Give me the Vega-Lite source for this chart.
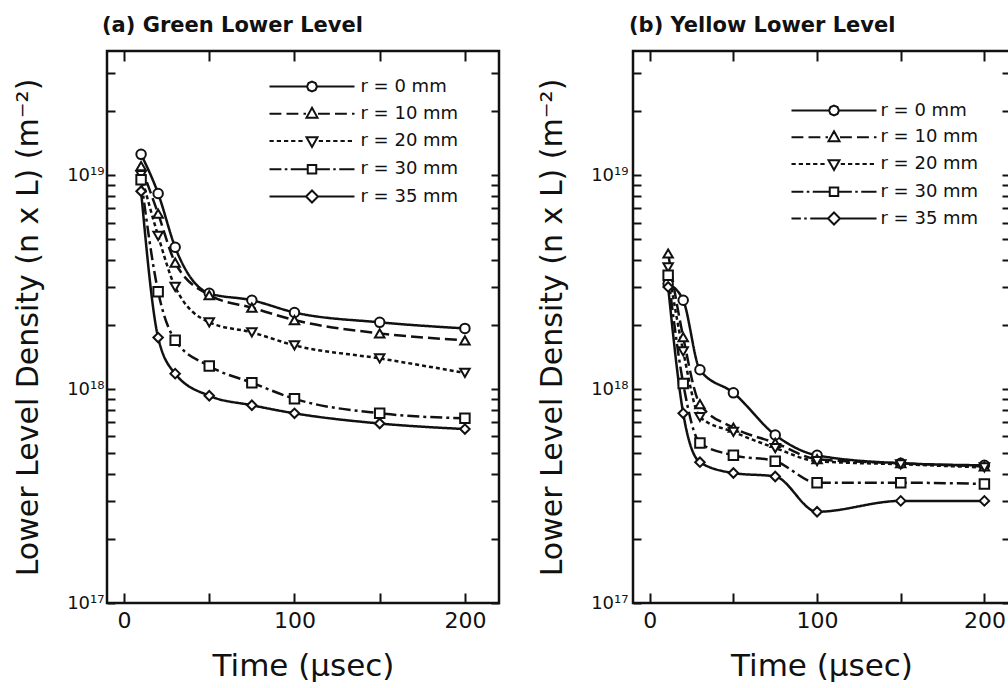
{
  "$schema": "https://vega.github.io/schema/vega-lite/v6.json",
  "background": "white",
  "padding": {"left": 12, "top": 13, "right": 0, "bottom": 0},
  "bounds": "flush",
  "spacing": 134,
  "config": {
    "view": {"stroke": "#111", "strokeWidth": 2.5},
    "font": "DejaVu Sans",
    "axis": {
      "grid": false, "domain": false, "ticks": true,
      "labelFont": "DejaVu Sans", "titleFont": "DejaVu Sans",
      "labelColor": "#111", "titleColor": "#111", "tickColor": "#111",
      "tickWidth": 2, "labelOverlap": false, "labelFlush": false,
      "titleFontWeight": "normal"
    }
  },
  "datasets": {
    "green": [
      {"t": 10, "r": 0, "n": 1.25e19}, {"t": 10, "r": 10, "n": 1.1e19}, {"t": 10, "r": 20, "n": 1.0e19}, {"t": 10, "r": 30, "n": 9.5e18}, {"t": 10, "r": 35, "n": 8.4e18},
      {"t": 20, "r": 0, "n": 8.2e18}, {"t": 20, "r": 10, "n": 6.6e18}, {"t": 20, "r": 20, "n": 5.2e18}, {"t": 20, "r": 30, "n": 2.85e18}, {"t": 20, "r": 35, "n": 1.74e18},
      {"t": 30, "r": 0, "n": 4.6e18}, {"t": 30, "r": 10, "n": 3.9e18}, {"t": 30, "r": 20, "n": 3.0e18}, {"t": 30, "r": 30, "n": 1.69e18}, {"t": 30, "r": 35, "n": 1.18e18},
      {"t": 50, "r": 0, "n": 2.8e18}, {"t": 50, "r": 10, "n": 2.75e18}, {"t": 50, "r": 20, "n": 2.05e18}, {"t": 50, "r": 30, "n": 1.28e18}, {"t": 50, "r": 35, "n": 9.3e17},
      {"t": 75, "r": 0, "n": 2.6e18}, {"t": 75, "r": 10, "n": 2.4e18}, {"t": 75, "r": 20, "n": 1.84e18}, {"t": 75, "r": 30, "n": 1.07e18}, {"t": 75, "r": 35, "n": 8.4e17},
      {"t": 100, "r": 0, "n": 2.28e18}, {"t": 100, "r": 10, "n": 2.1e18}, {"t": 100, "r": 20, "n": 1.6e18}, {"t": 100, "r": 30, "n": 9.0e17}, {"t": 100, "r": 35, "n": 7.7e17},
      {"t": 150, "r": 0, "n": 2.05e18}, {"t": 150, "r": 10, "n": 1.82e18}, {"t": 150, "r": 20, "n": 1.39e18}, {"t": 150, "r": 30, "n": 7.7e17}, {"t": 150, "r": 35, "n": 6.9e17},
      {"t": 200, "r": 0, "n": 1.92e18}, {"t": 200, "r": 10, "n": 1.69e18}, {"t": 200, "r": 20, "n": 1.19e18}, {"t": 200, "r": 30, "n": 7.3e17}, {"t": 200, "r": 35, "n": 6.5e17}
    ],
    "yellow": [
      {"t": 11, "r": 0, "n": 3.1e18}, {"t": 11, "r": 10, "n": 4.3e18}, {"t": 11, "r": 20, "n": 3.7e18}, {"t": 11, "r": 30, "n": 3.4e18}, {"t": 11, "r": 35, "n": 3.0e18},
      {"t": 20, "r": 0, "n": 2.6e18}, {"t": 20, "r": 10, "n": 1.75e18}, {"t": 20, "r": 20, "n": 1.5e18}, {"t": 20, "r": 30, "n": 1.06e18}, {"t": 20, "r": 35, "n": 7.7e17},
      {"t": 30, "r": 0, "n": 1.23e18}, {"t": 30, "r": 10, "n": 8.5e17}, {"t": 30, "r": 20, "n": 7.4e17}, {"t": 30, "r": 30, "n": 5.6e17}, {"t": 30, "r": 35, "n": 4.55e17},
      {"t": 50, "r": 0, "n": 9.6e17}, {"t": 50, "r": 10, "n": 6.6e17}, {"t": 50, "r": 20, "n": 6.3e17}, {"t": 50, "r": 30, "n": 4.9e17}, {"t": 50, "r": 35, "n": 4.05e17},
      {"t": 75, "r": 0, "n": 6.1e17}, {"t": 75, "r": 10, "n": 5.6e17}, {"t": 75, "r": 20, "n": 5.3e17}, {"t": 75, "r": 30, "n": 4.6e17}, {"t": 75, "r": 35, "n": 3.9e17},
      {"t": 100, "r": 0, "n": 4.9e17}, {"t": 100, "r": 10, "n": 4.7e17}, {"t": 100, "r": 20, "n": 4.6e17}, {"t": 100, "r": 30, "n": 3.65e17}, {"t": 100, "r": 35, "n": 2.67e17},
      {"t": 150, "r": 0, "n": 4.5e17}, {"t": 150, "r": 10, "n": 4.5e17}, {"t": 150, "r": 20, "n": 4.45e17}, {"t": 150, "r": 30, "n": 3.65e17}, {"t": 150, "r": 35, "n": 3.0e17},
      {"t": 200, "r": 0, "n": 4.4e17}, {"t": 200, "r": 10, "n": 4.35e17}, {"t": 200, "r": 20, "n": 4.3e17}, {"t": 200, "r": 30, "n": 3.6e17}, {"t": 200, "r": 35, "n": 3.0e17}
    ]
  },
  "hconcat": [
    {
      "width": 392, "height": 552,
      "title": {"text": "(a) Green Lower Level", "anchor": "start", "frame": "group", "dx": -5, "offset": 14, "font": "DejaVu Sans", "fontSize": 21, "fontWeight": "bold", "color": "#111"},
      "data": {"name": "green"},
      "resolve": {"scale": {"shape": "independent"}},
      "layer": [
        {
          "mark": {"type": "line", "interpolate": "monotone", "strokeWidth": 2.5, "color": "#111"},
          "encoding": {
            "x": {"field": "t", "type": "quantitative", "scale": {"domain": [-10, 220], "nice": false, "zero": false},
              "axis": {"orient": "bottom", "values": [0, 50, 100, 150, 200], "labelExpr": "datum.value % 100 == 0 ? datum.label : ''", "offset": -10, "tickSize": 10, "labelPadding": 7, "labelFontSize": 22, "title": "Time (μsec)", "titleFontSize": 31, "titlePadding": 20}},
            "y": {"field": "n", "type": "quantitative", "scale": {"type": "log", "domain": [1e17, 3.8e19], "nice": false},
              "axis": {"orient": "left", "values": [1e17, 2e17, 3e17, 4e17, 5e17, 6e17, 7e17, 8e17, 9e17, 1e18, 2e18, 3e18, 4e18, 5e18, 6e18, 7e18, 8e18, 9e18, 1e19, 2e19, 3e19],
                "labelExpr": "datum.value == 1e17 ? '10¹⁷' : datum.value == 1e18 ? '10¹⁸' : datum.value == 1e19 ? '10¹⁹' : ''",
                "offset": -8, "tickSize": 8, "labelPadding": 3, "labelFontSize": 18, "title": "Lower Level Density (n x L) (m⁻²)", "titleFontSize": 30, "titlePadding": 23}},
            "strokeDash": {"field": "r", "type": "nominal", "scale": {"domain": [0, 10, 20, 30, 35], "range": [[1, 0], [12, 5], [4, 3], [12, 4, 3, 4], [1, 0]]}, "legend": null}
          }
        },
        {
          "mark": {"type": "point", "filled": true, "fill": "white", "stroke": "#111", "strokeWidth": 2, "size": 90, "opacity": 1},
          "encoding": {
            "x": {"field": "t", "type": "quantitative", "axis": null},
            "y": {"field": "n", "type": "quantitative", "axis": null},
            "shape": {"field": "r", "type": "nominal", "scale": {"domain": [0, 10, 20, 30, 35], "range": ["circle", "triangle-up", "triangle-down", "square", "diamond"]}, "legend": null}
          }
        },
        {
          "mark": {"type": "point", "filled": false, "stroke": "#111", "strokeWidth": 2, "size": 625, "opacity": 0},
          "encoding": {
            "x": {"field": "t", "type": "quantitative", "axis": {"orient": "top", "values": [0, 50, 100, 150, 200], "labels": false, "offset": -10, "tickSize": 10, "title": null}},
            "y": {"field": "n", "type": "quantitative", "axis": {"orient": "right", "values": [1e17, 2e17, 3e17, 4e17, 5e17, 6e17, 7e17, 8e17, 9e17, 1e18, 2e18, 3e18, 4e18, 5e18, 6e18, 7e18, 8e18, 9e18, 1e19, 2e19, 3e19], "labels": false, "offset": -8, "tickSize": 8, "title": null}},
            "shape": {"field": "r", "type": "nominal",
              "scale": {"domain": [0, 10, 20, 30, 35], "range": [
                "M-3.4,0L-0.4,0M0.4,0L3.4,0M0.4,0L0.28,0.28L0,0.4L-0.28,0.28L-0.4,0L-0.28,-0.28L0,-0.4L0.28,-0.28Z",
                "M-3.4,0L-2.45,0M-2.04,0L-1.09,0M-0.68,0L-0.48,0M0.48,0L1.43,0M1.84,0L2.79,0M3.2,0L3.4,0M0,-0.48L0.44,0.31L-0.44,0.31Z",
                "M-3.4,0L-3.06,0M-2.82,0L-2.48,0M-2.24,0L-1.9,0M-1.67,0L-1.33,0M-1.09,0L-0.75,0M0.54,0L0.88,0M1.12,0L1.46,0M1.7,0L2.04,0M2.28,0L2.62,0M2.86,0L3.2,0M0,0.48L0.44,-0.31L-0.44,-0.31Z",
                "M-3.4,0L-2.45,0M-2.18,0L-1.97,0M-1.7,0L-0.34,0M0.34,0L1.43,0M1.7,0L1.9,0M2.18,0L3.4,0M-0.34,-0.34L0.34,-0.34L0.34,0.34L-0.34,0.34Z",
                "M-3.4,0L-0.48,0M0.48,0L3.4,0M0,-0.48L0.48,0L0,0.48L-0.48,0Z"
              ]},
              "legend": {"title": null, "orient": "none", "legendX": 163, "legendY": 22, "padding": 0, "offset": 0,
                "labelExpr": "'r = ' + (datum.value < 5 ? ' ' : '') + datum.value + ' mm'",
                "labelFont": "DejaVu Sans", "labelFontSize": 18, "labelColor": "#111", "labelOffset": 35, "symbolOffset": 28.5,
                "symbolSize": 625, "symbolStrokeWidth": 2, "symbolStrokeColor": "#111", "symbolFillColor": "white", "symbolOpacity": 1,
                "rowPadding": 4.25}
            }
          }
        }
      ]
    },
    {
      "width": 377, "height": 552,
      "title": {"text": "(b) Yellow Lower Level", "anchor": "start", "frame": "group", "dx": -4, "offset": 14, "font": "DejaVu Sans", "fontSize": 21, "fontWeight": "bold", "color": "#111"},
      "data": {"name": "yellow"},
      "resolve": {"scale": {"shape": "independent"}},
      "layer": [
        {
          "mark": {"type": "line", "interpolate": "monotone", "strokeWidth": 2.5, "color": "#111"},
          "encoding": {
            "x": {"field": "t", "type": "quantitative", "scale": {"domain": [-10, 215.3], "nice": false, "zero": false},
              "axis": {"orient": "bottom", "values": [0, 50, 100, 150, 200], "labelExpr": "datum.value % 100 == 0 ? datum.label : ''", "offset": -10, "tickSize": 10, "labelPadding": 7, "labelFontSize": 22, "title": "Time (μsec)", "titleFontSize": 31, "titlePadding": 20}},
            "y": {"field": "n", "type": "quantitative", "scale": {"type": "log", "domain": [1e17, 3.8e19], "nice": false},
              "axis": {"orient": "left", "values": [1e17, 2e17, 3e17, 4e17, 5e17, 6e17, 7e17, 8e17, 9e17, 1e18, 2e18, 3e18, 4e18, 5e18, 6e18, 7e18, 8e18, 9e18, 1e19, 2e19, 3e19],
                "labelExpr": "datum.value == 1e17 ? '10¹⁷' : datum.value == 1e18 ? '10¹⁸' : datum.value == 1e19 ? '10¹⁹' : ''",
                "offset": -8, "tickSize": 8, "labelPadding": 5, "labelFontSize": 18, "title": "Lower Level Density (n x L) (m⁻²)", "titleFontSize": 30, "titlePadding": 23}},
            "strokeDash": {"field": "r", "type": "nominal", "scale": {"domain": [0, 10, 20, 30, 35], "range": [[1, 0], [12, 5], [4, 3], [12, 4, 3, 4], [12, 4, 3, 4, 3, 4]]}, "legend": null}
          }
        },
        {
          "mark": {"type": "point", "filled": true, "fill": "white", "stroke": "#111", "strokeWidth": 2, "size": 90, "opacity": 1},
          "encoding": {
            "x": {"field": "t", "type": "quantitative", "axis": null},
            "y": {"field": "n", "type": "quantitative", "axis": null},
            "shape": {"field": "r", "type": "nominal", "scale": {"domain": [0, 10, 20, 30, 35], "range": ["circle", "triangle-up", "triangle-down", "square", "diamond"]}, "legend": null}
          }
        },
        {
          "mark": {"type": "point", "filled": false, "stroke": "#111", "strokeWidth": 2, "size": 625, "opacity": 0},
          "encoding": {
            "x": {"field": "t", "type": "quantitative", "axis": {"orient": "top", "values": [0, 50, 100, 150, 200], "labels": false, "offset": -10, "tickSize": 10, "title": null}},
            "y": {"field": "n", "type": "quantitative", "axis": {"orient": "right", "values": [1e17, 2e17, 3e17, 4e17, 5e17, 6e17, 7e17, 8e17, 9e17, 1e18, 2e18, 3e18, 4e18, 5e18, 6e18, 7e18, 8e18, 9e18, 1e19, 2e19, 3e19], "labels": false, "offset": -8, "tickSize": 8, "title": null}},
            "shape": {"field": "r", "type": "nominal",
              "scale": {"domain": [0, 10, 20, 30, 35], "range": [
                "M-3.4,0L-0.4,0M0.4,0L3.4,0M0.4,0L0.28,0.28L0,0.4L-0.28,0.28L-0.4,0L-0.28,-0.28L0,-0.4L0.28,-0.28Z",
                "M-3.4,0L-2.45,0M-2.04,0L-1.09,0M-0.68,0L-0.48,0M0.48,0L1.43,0M1.84,0L2.79,0M3.2,0L3.4,0M0,-0.48L0.44,0.31L-0.44,0.31Z",
                "M-3.4,0L-3.06,0M-2.82,0L-2.48,0M-2.24,0L-1.9,0M-1.67,0L-1.33,0M-1.09,0L-0.75,0M0.54,0L0.88,0M1.12,0L1.46,0M1.7,0L2.04,0M2.28,0L2.62,0M2.86,0L3.2,0M0,0.48L0.44,-0.31L-0.44,-0.31Z",
                "M-3.4,0L-2.45,0M-2.18,0L-1.97,0M-1.7,0L-0.34,0M0.34,0L1.43,0M1.7,0L1.9,0M2.18,0L3.4,0M-0.34,-0.34L0.34,-0.34L0.34,0.34L-0.34,0.34Z",
                "M-3.4,0L-2.65,0M-2.38,0L-2.18,0M-1.9,0L-0.48,0M0.48,0L3.4,0M0,-0.48L0.48,0L0,0.48L-0.48,0Z"
              ]},
              "legend": {"title": null, "orient": "none", "legendX": 159, "legendY": 46, "padding": 0, "offset": 0,
                "labelExpr": "'r = ' + (datum.value < 5 ? ' ' : '') + datum.value + ' mm'",
                "labelFont": "DejaVu Sans", "labelFontSize": 18, "labelColor": "#111", "labelOffset": 33, "symbolOffset": 28.5,
                "symbolSize": 625, "symbolStrokeWidth": 2, "symbolStrokeColor": "#111", "symbolFillColor": "white", "symbolOpacity": 1,
                "rowPadding": 3.75}
            }
          }
        }
      ]
    }
  ]
}
